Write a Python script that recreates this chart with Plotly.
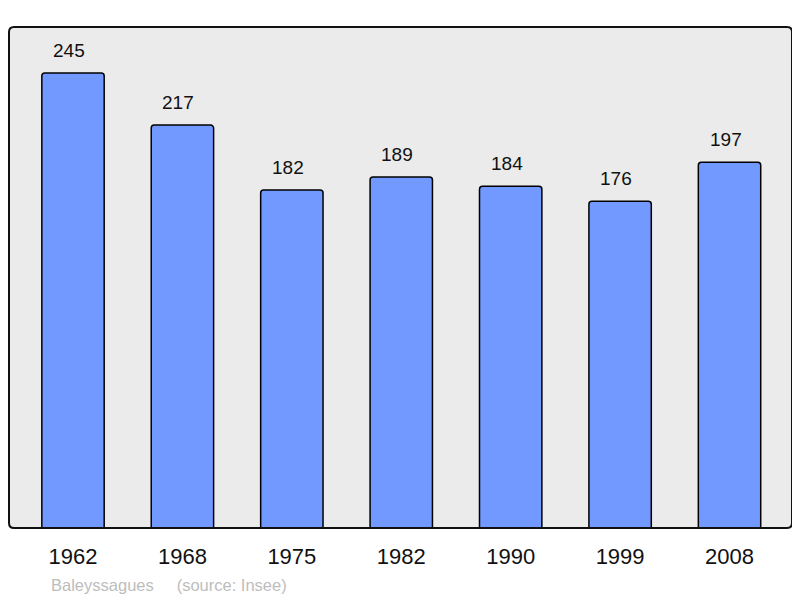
import plotly.graph_objects as go

years = ["1962", "1968", "1975", "1982", "1990", "1999", "2008"]
population = [245, 217, 182, 189, 184, 176, 197]
place = "Baleyssagues"
source = "(source: Insee)"

fig = go.Figure()
fig.add_trace(go.Bar(
    x=years, y=population, width=0.57,
    marker=dict(color="#7299ff", line=dict(color="#000000", width=1.5), cornerradius=3),
    hoverinfo="skip",
))

for i, v in enumerate(population):
    fig.add_annotation(x=i, y=v, text=str(v), showarrow=False, yanchor="bottom",
                       yshift=10, xshift=-4,
                       font=dict(family="Liberation Sans, Arial", size=19, color="#111111"))

fig.add_annotation(xref="paper", yref="paper", x=0.0511, y=-0.1138, xanchor="left", yanchor="middle",
                   text=place + "&nbsp;" * 5 + source, showarrow=False,
                   font=dict(family="Liberation Sans, Arial", size=16.5, color="#bdbdbd"))

# rounded border of plot area
r_x = 5 / 783
r_y = 5 / 501
path = (f"M {r_x},0 L {1-r_x},0 Q 1,0 1,{r_y} L 1,{1-r_y} Q 1,1 {1-r_x},1 "
        f"L {r_x},1 Q 0,1 0,{1-r_y} L 0,{r_y} Q 0,0 {r_x},0 Z")
fig.add_shape(type="path", path=path, xref="paper", yref="paper",
              line=dict(color="#111111", width=2), layer="above")

fig.update_layout(
    width=792, height=590,
    margin=dict(l=1, r=8, t=19, b=70),
    paper_bgcolor="#ffffff", plot_bgcolor="#ebebeb",
    showlegend=False,
    xaxis=dict(type="category", range=[-0.585, 6.571], showgrid=False, zeroline=False,
               ticks="outside", ticklen=9, tickcolor="rgba(0,0,0,0)",
               tickfont=dict(family="Liberation Sans, Arial", size=22, color="#111111")),
    yaxis=dict(range=[0, 269.8], showgrid=False, zeroline=False, showticklabels=False),
)

fig.write_html("out.html")
